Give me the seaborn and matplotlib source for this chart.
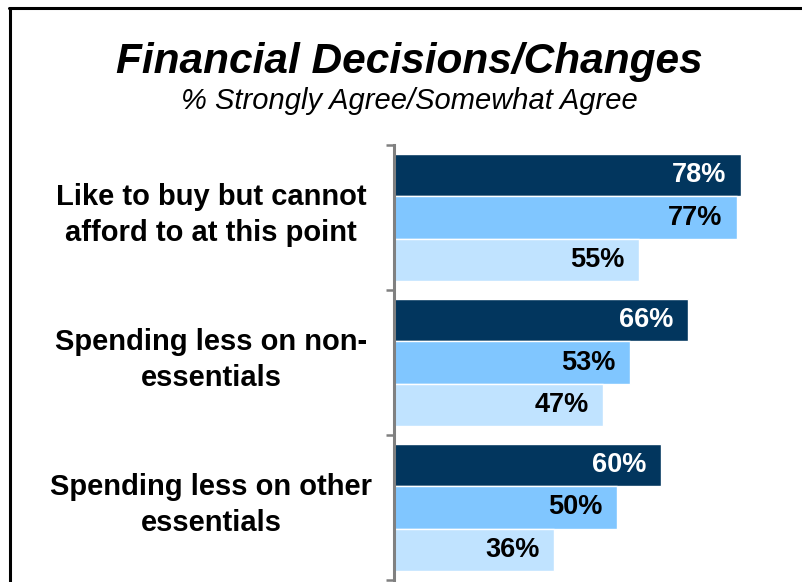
import pandas as pd
import matplotlib.pyplot as plt
import matplotlib.transforms as mtransforms
from matplotlib.lines import Line2D
import seaborn as sns

# data
categories = ['Like to buy but cannot\nafford to at this point',
              'Spending less on non-\nessentials',
              'Spending less on other\nessentials']
series = ['Series 1', 'Series 2', 'Series 3']
values_s1 = [78, 66, 60]
values_s2 = [77, 53, 50]
values_s3 = [55, 47, 36]
colors = ['#02365E', '#80C6FF', '#C0E3FF']
text_colors = ['white', 'black', 'black']

rows = []
for vals, name in zip([values_s1, values_s2, values_s3], series):
    for cat, v in zip(categories, vals):
        rows.append({'category': cat, 'series': name, 'value': v})
df = pd.DataFrame(rows)

sns.set_style('white')
plt.rcParams['font.family'] = ['Liberation Sans', 'DejaVu Sans']
plt.rcParams['text.color'] = 'black'

fig = plt.figure(figsize=(8.02, 5.82), dpi=100)
ax = fig.add_axes([394 / 802, 2 / 582, 406 / 802, 435 / 582])

sns.barplot(data=df, y='category', x='value', hue='series', order=categories,
            hue_order=series, palette=colors, saturation=1, width=0.87, orient='h',
            edgecolor='white', linewidth=1, legend=False, ax=ax)

ax.set_xlim(0, 91.2)
ax.set_ylim(2.5, -0.5)
ax.set_xlabel('')
ax.set_ylabel('')
ax.set_xticks([])
ax.set_yticks([-0.5, 0.5, 1.5, 2.5])
ax.set_yticklabels([])
ax.tick_params(axis='y', direction='out', length=6, width=1.8, color='#808080', left=True)
for s in ['top', 'right', 'bottom']:
    ax.spines[s].set_visible(False)
ax.spines['left'].set_color('#808080')
ax.spines['left'].set_linewidth(2.2)

for cont, tc in zip(ax.containers, text_colors):
    labels = ax.bar_label(cont, fmt='%d%%', padding=-10.5, fontsize=19.5,
                          fontweight='bold', color=tc)
    for lab in labels:
        lab.set_ha('right')

# category labels to the left of the axis
trans = mtransforms.blended_transform_factory(fig.transFigure, ax.transData)
for i, cat in enumerate(categories):
    ax.text(211 / 802, i - 0.02, cat, transform=trans, ha='center', va='center',
            fontsize=21, fontweight='bold', linespacing=1.36, clip_on=False)

fig.text(409 / 802, 1 - 62 / 582, 'Financial Decisions/Changes', ha='center',
         va='center', fontsize=30.5, fontweight='bold', style='italic')
fig.text(409 / 802, 1 - 101 / 582, '% Strongly Agree/Somewhat Agree', ha='center',
         va='center', fontsize=21, style='italic')

# frame around the slide
fig.lines.append(Line2D([9.5 / 802, 9.5 / 802], [0, 1 - 8 / 582], transform=fig.transFigure,
                        color='black', linewidth=2.2))
fig.lines.append(Line2D([8.5 / 802, 1], [1 - 8 / 582, 1 - 8 / 582], transform=fig.transFigure,
                        color='black', linewidth=2.2))

fig.savefig('out.png', dpi=100)
